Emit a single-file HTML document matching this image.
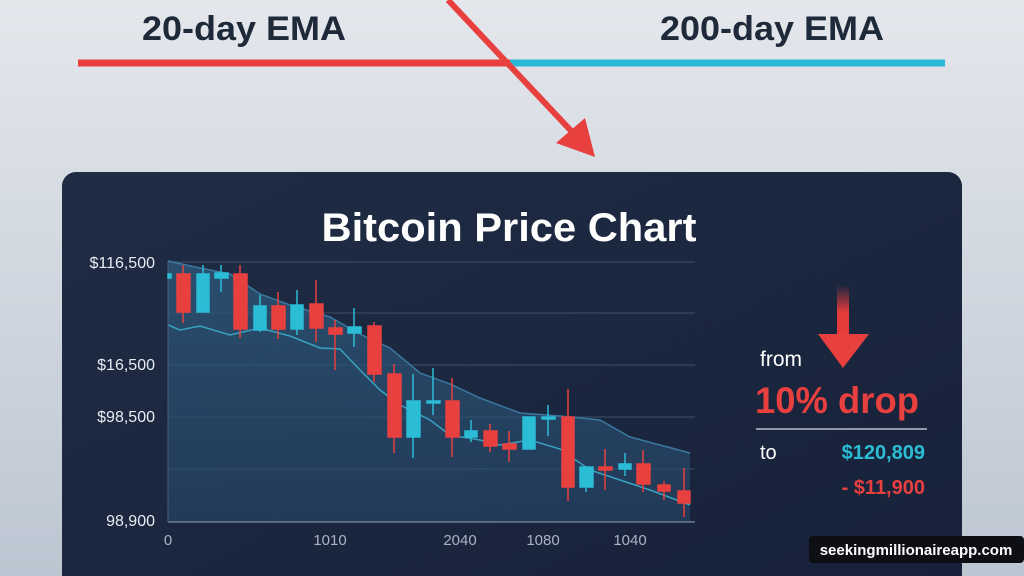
<!DOCTYPE html>
<html><head><meta charset="utf-8"><style>
html,body{margin:0;padding:0;width:1024px;height:576px;overflow:hidden;font-family:"Liberation Sans",sans-serif}
</style></head><body>
<svg width="1024" height="576" viewBox="0 0 1024 576" xmlns="http://www.w3.org/2000/svg" font-family="Liberation Sans, sans-serif">
<defs>
<linearGradient id="bg" x1="0" y1="0" x2="0" y2="1"><stop offset="0" stop-color="#e4e7ec"/><stop offset="1" stop-color="#bcc6d2"/></linearGradient>
<linearGradient id="pn" x1="0" y1="0" x2="1" y2="1"><stop offset="0" stop-color="#1f2c44"/><stop offset="1" stop-color="#17223a"/></linearGradient>
<linearGradient id="ar" x1="0" y1="0" x2="0" y2="1"><stop offset="0" stop-color="#e53b3b" stop-opacity="0"/><stop offset="0.5" stop-color="#e53b3b"/></linearGradient>
<linearGradient id="fa" x1="0" y1="0" x2="0" y2="1"><stop offset="0" stop-color="#2f5a7c" stop-opacity="0.75"/><stop offset="1" stop-color="#27486a" stop-opacity="0.6"/></linearGradient>
</defs>
<rect width="1024" height="576" fill="url(#bg)"/>
<text x="142" y="40" font-size="34" fill="#1e2a3a" font-weight="bold" textLength="204" lengthAdjust="spacingAndGlyphs">20-day EMA</text>
<text x="660" y="40" font-size="34" fill="#1e2a3a" font-weight="bold" textLength="224" lengthAdjust="spacingAndGlyphs">200-day EMA</text>
<line x1="78" y1="63" x2="510" y2="63" stroke="#e8403f" stroke-width="7"/>
<line x1="510" y1="63" x2="945" y2="63" stroke="#2ab8d4" stroke-width="7"/>
<line x1="448" y1="0" x2="575" y2="135" stroke="#e8403f" stroke-width="6"/>
<polygon points="595,157 556,143 585,118" fill="#e8403f"/>
<rect x="62" y="172" width="900" height="420" rx="14" fill="url(#pn)"/>
<text x="509" y="241" font-size="40" font-weight="bold" fill="#fff" text-anchor="middle" textLength="375" lengthAdjust="spacingAndGlyphs">Bitcoin Price Chart</text>
<g font-size="16" fill="#e8ecf2" text-anchor="end">
<text x="155" y="268">$116,500</text><text x="155" y="370">$16,500</text><text x="155" y="422">$98,500</text><text x="155" y="526">98,900</text>
</g>
<g font-size="15" fill="#aab4c4" text-anchor="middle">
<text x="168" y="545">0</text><text x="330" y="545">1010</text><text x="460" y="545">2040</text><text x="543" y="545">1080</text><text x="630" y="545">1040</text>
</g>
<g stroke="#3c5068" stroke-width="1">
<line x1="168" y1="262" x2="695" y2="262"/><line x1="168" y1="313" x2="695" y2="313"/><line x1="168" y1="365" x2="695" y2="365"/><line x1="168" y1="417" x2="695" y2="417"/><line x1="168" y1="469" x2="695" y2="469"/>
</g>
<path d="M168,261 L200,268 230,274 260,294 290,305 330,317 360,334 390,348 420,373 450,384 480,398 520,413 560,416 600,420 630,437 660,445 690,453 690,522 168,522Z" fill="url(#fa)"/>
<polyline points="168,261 200,268 230,274 260,294 290,305 330,317 360,334 390,348 420,373 450,384 480,398 520,413 560,416 600,420 630,437 660,445 690,453" fill="none" stroke="#3a78a0" stroke-width="1.5"/>
<polyline points="168,325 180,330 200,326 230,335 260,328 290,336 320,348 340,349 360,370 380,390 400,405 430,420 450,435 480,440 500,445 530,440 560,449 590,470 620,480 650,490 690,505" fill="none" stroke="#36a2c0" stroke-width="1.5"/>
<line x1="168" y1="522" x2="695" y2="522" stroke="#6c7c90" stroke-width="1.5"/>
<line x1="168" y1="262" x2="168" y2="522" stroke="#4c6078" stroke-width="1"/>
<g stroke-width="1.5">
<g stroke="#e8403f" fill="#e8403f">
<line x1="183" y1="265" x2="183" y2="323"/><rect x="177" y="274" width="13" height="38"/>
<line x1="240" y1="265" x2="240" y2="338"/><rect x="234" y="274" width="13" height="55"/>
<line x1="278" y1="292" x2="278" y2="339"/><rect x="272" y="306" width="13" height="23"/>
<line x1="316" y1="280" x2="316" y2="342"/><rect x="310" y="304" width="13" height="24"/>
<line x1="335" y1="320" x2="335" y2="370"/><rect x="329" y="328" width="13" height="6"/>
<line x1="374" y1="322" x2="374" y2="382"/><rect x="368" y="326" width="13" height="48"/>
<line x1="394" y1="364" x2="394" y2="453"/><rect x="388" y="374" width="13" height="63"/>
<line x1="452" y1="378" x2="452" y2="457"/><rect x="446" y="401" width="13" height="36"/>
<line x1="490" y1="424" x2="490" y2="452"/><rect x="484" y="431" width="13" height="15"/>
<line x1="509" y1="431" x2="509" y2="462"/><rect x="503" y="444" width="13" height="5"/>
<line x1="568" y1="389" x2="568" y2="501"/><rect x="562" y="417" width="12" height="70"/>
<line x1="605" y1="449" x2="605" y2="490"/><rect x="599" y="467" width="13" height="3"/>
<line x1="643" y1="450" x2="643" y2="492"/><rect x="637" y="464" width="13" height="20"/>
<line x1="664" y1="481" x2="664" y2="500"/><rect x="658" y="485" width="12" height="6"/>
<line x1="684" y1="468" x2="684" y2="517"/><rect x="678" y="491" width="12" height="12"/>
</g>
<g stroke="#2bbcd6" fill="#2bbcd6">
<rect x="168" y="274" width="3" height="4"/>
<line x1="203" y1="265" x2="203" y2="312"/><rect x="197" y="274" width="12" height="38"/>
<line x1="221" y1="265" x2="221" y2="292"/><rect x="215" y="273" width="13" height="5"/>
<line x1="260" y1="295" x2="260" y2="332"/><rect x="254" y="306" width="12" height="24"/>
<line x1="297" y1="290" x2="297" y2="335"/><rect x="291" y="305" width="12" height="24"/>
<line x1="354" y1="308" x2="354" y2="347"/><rect x="348" y="327" width="13" height="6"/>
<line x1="413" y1="374" x2="413" y2="458"/><rect x="407" y="401" width="13" height="36"/>
<line x1="433" y1="368" x2="433" y2="415"/><rect x="427" y="401" width="13" height="2"/>
<line x1="471" y1="420" x2="471" y2="442"/><rect x="465" y="431" width="12" height="6"/>
<rect x="523" y="417" width="12" height="32"/>
<line x1="548" y1="405" x2="548" y2="436"/><rect x="542" y="417" width="13" height="2"/>
<line x1="586" y1="467" x2="586" y2="492"/><rect x="580" y="467" width="13" height="20"/>
<line x1="625" y1="453" x2="625" y2="476"/><rect x="619" y="464" width="12" height="5"/>
</g>
</g>
<rect x="837" y="285" width="12" height="55" fill="url(#ar)"/>
<polygon points="818,334 869,334 843,368" fill="#e8403f"/>
<text x="760" y="366" font-size="21" fill="#fff">from</text>
<text x="755" y="413" font-size="37" font-weight="bold" fill="#e8403f" textLength="164" lengthAdjust="spacingAndGlyphs">10% drop</text>
<line x1="756" y1="429" x2="927" y2="429" stroke="#b8c0cc" stroke-width="1.5"/>
<text x="760" y="459" font-size="20" fill="#fff">to</text>
<text x="925" y="459" font-size="20" font-weight="bold" fill="#2bbcd6" text-anchor="end">$120,809</text>
<text x="925" y="494" font-size="20" font-weight="bold" fill="#e8403f" text-anchor="end">- $11,900</text>
<rect x="809" y="536" width="215" height="27" rx="4" fill="#0e0f14"/>
<text x="916" y="555" font-size="15" font-weight="bold" fill="#fff" text-anchor="middle">seekingmillionaireapp.com</text>
</svg>
</body></html>
